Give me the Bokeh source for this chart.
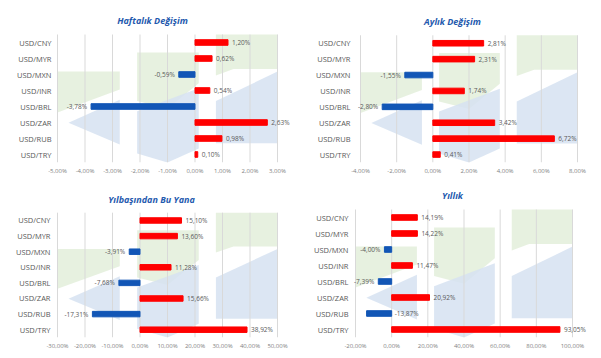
from bokeh.plotting import figure
from bokeh.layouts import row, column
from bokeh.models import ColumnDataSource, Range1d, FixedTicker, CustomJSTickFormatter
from bokeh.core.properties import value
from bokeh.embed import file_html
from bokeh.resources import INLINE

# ---------------- data ----------------
pairs = ["USD/CNY", "USD/MYR", "USD/MXN", "USD/INR", "USD/BRL", "USD/ZAR", "USD/RUB", "USD/TRY"]
weekly = [1.20, 0.62, -0.59, 0.54, -3.78, 2.63, 0.98, 0.10]
monthly = [2.81, 2.31, -1.55, 1.74, -2.80, 3.42, 6.72, 0.41]
ytd = [15.10, 13.60, -3.91, 11.28, -7.68, 15.66, -17.31, 38.92]
yearly = [14.19, 14.22, -4.00, 11.47, -7.39, 20.92, -13.87, 93.05]

weekly_ticks = [-5, -4, -3, -2, -1, 0, 1, 2, 3]
monthly_ticks = [-4, -2, 0, 2, 4, 6, 8]
ytd_ticks = [-30, -20, -10, 0, 10, 20, 30, 40, 50]
yearly_ticks = [-20, 0, 20, 40, 60, 80, 100]

titles = ["Haftalık Değişim", "Aylık Değişim", "Yılbaşından Bu Yana", "Yıllık"]

# ---------------- style ----------------
FONT = "Open Sans"
RED = "#FF0000"
BLUE = "#1256B6"
TITLE_BLUE = "#1F5AAE"
GREEN_BG = "#E3EEDA"
BLUE_BG = "#D6E2F1"
GRID = "#D9D9D9"

# decorative background logo, in fractions of the axis span (x) and category block (y, from top)
logo_green = [
    ([0.0, 0.283, 0.283, 0.0], [0.29, 0.29, 0.43, 0.61]),
    ([0.362, 0.642, 0.642, 0.50, 0.362], [0.14, 0.14, 0.38, 0.58, 0.52]),
    ([0.72, 1.0, 1.0, 0.80, 0.72], [0.0, 0.0, 0.27, 0.27, 0.32]),
]
logo_blue = [
    ([0.05, 0.283, 0.283], [0.69, 0.51, 0.86]),
    ([0.362, 0.642, 0.642, 0.50, 0.362], [0.60, 0.42, 0.89, 1.0, 0.93]),
    ([0.72, 1.0, 1.0, 0.72], [0.52, 0.29, 0.85, 0.85]),
]

n = len(pairs)
slots = [i + 0.5 for i in range(n)]   # category centres on a numeric axis
STEP = 16          # px per category row
CHAR_W = 3.0       # approx px per character of a value label


def fmt(v):
    return f"{v:.2f}".replace(".", ",") + "%"


def make_panel(title, vals, ticks, width, height, left_px, span_px, cat_top, title_x, ystand):
    t0, t1 = ticks[0], ticks[-1]
    ppu = span_px / (t1 - t0)
    lo = t0 - left_px / ppu
    hi = lo + width / ppu
    top_units = cat_top / STEP
    bottom_px = height - cat_top - n * STEP
    p = figure(
        width=width, height=height,
        y_range=Range1d(n, -top_units),
        x_range=Range1d(lo, hi),
        output_backend="svg", toolbar_location=None,
        min_border_left=0, min_border_right=0, min_border_top=0, min_border_bottom=bottom_px,
    )
    p.outline_line_color = None
    p.background_fill_color = "white"
    p.border_fill_color = "white"
    p.xgrid.grid_line_color = None
    p.ygrid.grid_line_color = None
    p.yaxis.visible = False

    # background logo (decoration)
    def mx(fs):
        return [t0 + f * (t1 - t0) for f in fs]
    p.patches([mx(s[0]) for s in logo_green], [[f * n for f in s[1]] for s in logo_green],
              fill_color=GREEN_BG, line_color=None, fill_alpha=0.85)
    p.patches([mx(s[0]) for s in logo_blue], [[f * n for f in s[1]] for s in logo_blue],
              fill_color=BLUE_BG, line_color=None, fill_alpha=0.85)

    # vertical gridlines over the category block only
    p.segment(x0=ticks, x1=ticks, y0=[0] * len(ticks), y1=[n] * len(ticks),
              line_color=GRID, line_width=1)

    # value labels (drawn below the bars, as in the source)
    lab_x, lab_align, lab_off = [], [], []
    for v in vals:
        txt = fmt(v)
        if v >= 0:
            lab_x.append(v); lab_align.append("left"); lab_off.append(4)
        else:
            left_edge = (v - t0) * ppu - 4 - len(txt) * CHAR_W
            if left_edge >= -6:
                lab_x.append(v); lab_align.append("right"); lab_off.append(-4)
            else:   # no room outside: put it beside the zero line
                lab_x.append(0); lab_align.append("left"); lab_off.append(3)
    lsrc = ColumnDataSource(dict(y=slots, x=lab_x, label=[fmt(v) for v in vals],
                                 align=lab_align, off=lab_off))
    p.text(x="x", y="y", text="label", text_align="align", x_offset="off",
           text_baseline="middle", text_font=value(FONT), text_font_size="6.5px",
           text_color="#595959", source=lsrc)

    src = ColumnDataSource(dict(
        y=slots, v=vals,
        color=[RED if v >= 0 else BLUE for v in vals],
    ))
    p.hbar(y="y", left=0, right="v", height=0.35, color="color", source=src)

    # category labels
    csrc = ColumnDataSource(dict(y=slots, x=[t0] * n, name=pairs))
    p.text(x="x", y="y", text="name", text_align="right", x_offset=-ystand,
           text_baseline="middle", text_font=value(FONT), text_font_size="7.5px",
           text_color="#595959", source=csrc)

    # title
    p.text(x=[lo + title_x / ppu], y=[-14 / STEP], text=[title],
           text_align="center", text_baseline="middle", text_font=value(FONT),
           text_font_style="bold italic", text_font_size="9px", text_color=TITLE_BLUE)

    # x axis
    p.xaxis.ticker = FixedTicker(ticks=ticks)
    p.xaxis.formatter = CustomJSTickFormatter(
        code="return tick.toFixed(2).replace('.', ',') + '%';")
    p.xaxis.axis_line_color = None
    p.xaxis.major_tick_line_color = None
    p.xaxis.minor_tick_line_color = None
    p.xaxis.major_tick_out = 0
    p.xaxis.major_tick_in = 0
    p.xaxis.minor_tick_out = 0
    p.xaxis.major_label_standoff = 4
    p.xaxis.major_label_text_font = FONT
    p.xaxis.major_label_text_font_size = "6px"
    p.xaxis.major_label_text_color = "#7F7F7F"
    return p


#                title      values   ticks          w    h   left span top  title_x ystand
p1 = make_panel(titles[0], weekly, weekly_ticks, 300, 180, 57, 220, 34, 152, 6)
p2 = make_panel(titles[1], monthly, monthly_ticks, 301, 180, 60, 217, 35, 152, 10)
p3 = make_panel(titles[2], ytd, ytd_ticks, 300, 178, 57, 220, 33, 151, 7)
p4 = make_panel(titles[3], yearly, yearly_ticks, 301, 178, 55, 217, 29, 152, 7)

layout = column(row(p1, p2), row(p3, p4))

open("out.html", "w").write(file_html(layout, INLINE))
